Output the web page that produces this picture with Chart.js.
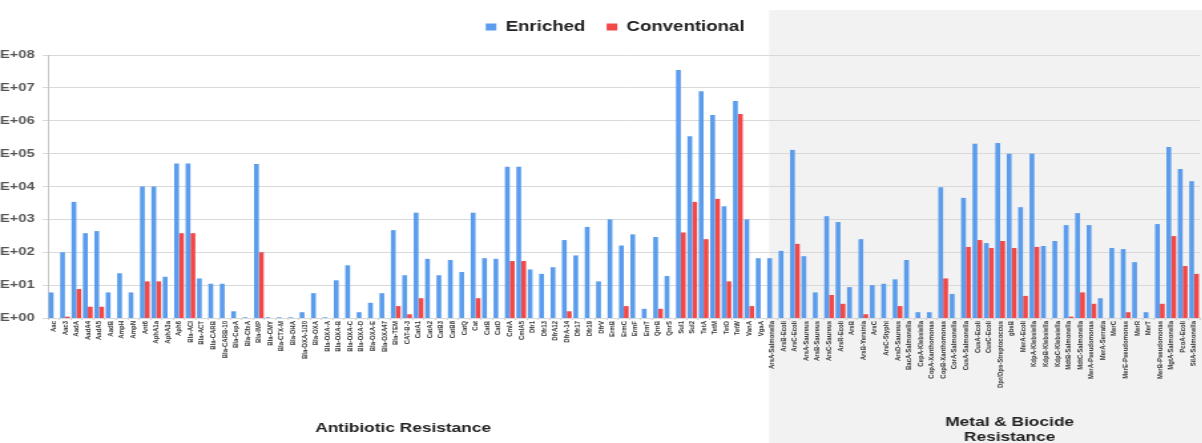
<!DOCTYPE html>
<html>
<head>
<meta charset="utf-8">
<script src="https://cdn.jsdelivr.net/npm/chart.js@4.4.1/dist/chart.umd.min.js"></script>
<style>
  html, body { margin: 0; padding: 0; background: #fff; overflow: hidden; width: 1202px; height: 443px; }
  #wrap { position: absolute; left: -4px; top: 0; width: 909px; height: 443px; transform: scaleX(1.33); transform-origin: 0 0; }
  #c { display: block; width: 909px; height: 443px; }
</style>
</head>
<body>
<div id="wrap"><canvas id="c" width="909" height="443"></canvas></div>
<script>
// Gene targets, antibiotic resistance first, then metal & biocide resistance
const categories = [
  'Aac', 'Aac3', 'AadA', 'AadA4', 'AadA5', 'AadB', 'AmpH', 'AmpN', 'Ant6', 'AphA1a',
  'AphA3a', 'Aph6', 'Bla-ACI', 'Bla-ACT', 'Bla-CARB', 'Bla-CARB-10', 'Bla-CepA', 'Bla-CfxA', 'Bla-IMP', 'Bla-CMY',
  'Bla-CTX-M', 'Bla-DHA', 'Bla-OXA-1/30', 'Bla-OXA', 'Bla-OXA-A', 'Bla-OXA-B', 'Bla-OXA-C', 'Bla-OXA-D', 'Bla-OXA-E', 'Bla-OXA47',
  'Bla-TEM', 'CAT-B-3', 'CatA1', 'CatA2', 'CatB3', 'CatB8', 'CatQ', 'Cat', 'CatB', 'CatD',
  'CmlA', 'CmlA5', 'Dfr1', 'Dfr13', 'DfrA12', 'DfrA-14', 'Dfr17', 'Dfr19', 'DfrV', 'ErmB',
  'ErmC', 'ErmF', 'ErmT', 'QnrB', 'QnrS', 'Sul1', 'Sul2', 'TetA', 'TetM', 'TetO',
  'TetW', 'VanA', 'VgaA',
  'ArsA-Salmonella', 'ArsB-Ecoli', 'ArsC-Ecoli', 'ArsA-Saureus', 'ArsB-Saureus', 'ArsC-Saureus', 'ArsR-Ecoli', 'ArsB',
  'ArsB-Yersinia', 'ArsC', 'ArsC-Styphi', 'ArsD-Saureus', 'BacA-Salmonella', 'CepA-Klebsiella', 'CopA-Xanthomonas',
  'CopB-Xanthomonas', 'CorA-Salmonella', 'CusA-Salmonella', 'CusA-Ecoli', 'CusC-Ecoli', 'Dpr/Dps-Streptococcus', 'gbsB',
  'MerA-Ecoli', 'KdpA-Klebsiella', 'KdpB-Klebsiella', 'KdpC-Klebsiella', 'MdtB-Salmonella', 'MdtC-Salmonella',
  'MerA-Pseudomonas', 'MerA-Serratia', 'MerC', 'MerE-Pseudomonas', 'MerR', 'MerT', 'MerB-Pseudomonas',
  'MgtA-Salmonella', 'PcoA-Ecoli', 'SilA-Salmonella'
];

// Number of antibiotic-resistance targets at the start of the list
const antibioticCount = 63;

const seriesNames = ['Enriched', 'Conventional'];

// Gene copies detected, enriched samples
const enriched = [
  6, 100, 3400, 380, 440, 6, 23, 6, 10000, 10000,
  18, 50000, 50000, 16, 11, 11, 1.6, 1.05, 48000, 1.05,
  1.05, 1.05, 1.5, 5.7, 1.05, 14, 40, 1.5, 2.9, 5.7,
  470, 20, 1600, 63, 20, 58, 25, 1600, 66, 63,
  40000, 40000, 30, 22, 35, 235, 80, 590, 13, 1000,
  160, 350, 1.9, 290, 19, 35000000, 340000, 7900000, 1500000, 2500,
  4000000, 1000, 66,
  66, 110, 130000, 76, 6, 1250, 830, 8.7,
  250, 10, 11, 15, 58, 1.5, 1.5,
  9500, 5.4, 4500, 200000, 190, 210000, 100000,
  2350, 100000, 155, 220, 670, 1550,
  670, 4, 135, 125, 50, 1.5, 720,
  160000, 34000, 14500
];

// Gene copies detected, conventional samples
const conventional = [
  null, 1.1, 7.6, 2.2, 2.2, null, null, null, 13, 13,
  null, 380, 380, null, null, null, null, null, 100, null,
  null, null, null, null, null, null, null, null, null, null,
  2.3, 1.3, 4, null, null, null, null, 4, null, null,
  54, 54, null, null, null, 1.6, null, null, null, null,
  2.3, null, null, 1.9, null, 400, 3400, 250, 4200, 13,
  1600000, 2.3, null,
  null, null, 180, null, null, 5, 2.7, null,
  1.3, null, null, 2.3, null, null, null,
  16, null, 145, 235, 135, 220, 135,
  4.7, 145, null, null, 1.1, 6,
  2.7, null, null, 1.5, null, null, 2.7,
  310, 38, 22
];

const yTickValues = [1, 10, 100, 1000, 10000, 100000, 1000000, 10000000, 100000000];
const yTickLabels = ['1E+00', '1E+01', '1E+02', '1E+03', '1E+04', '1E+05', '1E+06', '1E+07', '1E+08'];

const sectionTitles = [['Antibiotic Resistance'], ['Metal & Biocide', 'Resistance']];

const FONT = '"Liberation Sans", Arial, sans-serif';

// Light grey panel behind the metal & biocide targets
const sectionShade = {
  id: 'sectionShade',
  beforeDraw(chart) {
    const { ctx, scales: { x } } = chart;
    const split = (x.getPixelForValue(antibioticCount - 1) + x.getPixelForValue(antibioticCount)) / 2 + 2;
    ctx.save();
    ctx.fillStyle = '#f2f2f2';
    ctx.fillRect(split, 10, chart.width - split, chart.height - 10);
    ctx.restore();
  }
};

// Group captions under the rotated category labels
const sectionCaptions = {
  id: 'sectionCaptions',
  afterDraw(chart) {
    const { ctx, scales: { x }, chartArea } = chart;
    const split = (x.getPixelForValue(antibioticCount - 1) + x.getPixelForValue(antibioticCount)) / 2;
    ctx.save();
    ctx.font = 'bold 13px ' + FONT;
    ctx.fillStyle = '#222';
    ctx.textAlign = 'center';
    ctx.textBaseline = 'middle';
    const abX = (x.getPixelForValue(0) + x.getPixelForValue(antibioticCount - 1)) / 2 - 3;
    ctx.fillText(sectionTitles[0][0], abX, 428);
    const mX = (split + chartArea.right) / 2 + 20;
    ctx.fillText(sectionTitles[1][0], mX, 422);
    ctx.fillText(sectionTitles[1][1], mX, 437);
    ctx.restore();
  }
};

// Legend row: extra gap above the plot and a slight shift to the right
const legendPlacement = {
  id: 'legendPlacement',
  beforeLayout(chart) {
    const lg = chart.legend;
    if (lg && !lg._gapPatched) {
      const fit = lg.fit;
      lg.fit = function () { fit.call(this); this.height += 11; };
      lg._gapPatched = true;
    }
  },
  afterLayout(chart) {
    const lg = chart.legend;
    if (lg) { lg.left += 11; lg.right += 11; }
  }
};

new Chart(document.getElementById('c'), {
  type: 'bar',
  data: {
    labels: categories,
    datasets: [
      { label: seriesNames[0], data: enriched, backgroundColor: '#5b9dec', borderWidth: 0 },
      { label: seriesNames[1], data: conventional, backgroundColor: '#f24848', borderWidth: 0 }
    ]
  },
  options: {
    responsive: false,
    animation: false,
    devicePixelRatio: 1,
    categoryPercentage: 0.86,
    barPercentage: 0.98,
    layout: { padding: { top: 4, left: 0, right: 0, bottom: 0 } },
    plugins: {
      legend: {
        position: 'top',
        labels: {
          boxWidth: 8,
          boxHeight: 7,
          padding: 16,
          color: '#222',
          font: { family: FONT, size: 14, weight: 'bold' }
        }
      },
      tooltip: { enabled: false }
    },
    scales: {
      x: {
        type: 'category',
        offset: true,
        afterFit(scale) { scale.height = 125; },
        grid: { display: true, drawOnChartArea: false, tickLength: 2, color: '#cfcfcf' },
        border: { display: false },
        ticks: {
          autoSkip: false,
          minRotation: 90,
          maxRotation: 90,
          padding: 1,
          color: '#333',
          font: { family: FONT, size: 6, weight: 'bold' }
        }
      },
      y: {
        type: 'logarithmic',
        min: 1,
        max: 100000000,
        afterFit(scale) { scale.width = 39; },
        afterBuildTicks(scale) { scale.ticks = yTickValues.map(v => ({ value: v })); },
        grid: { color: '#d9d9d9', lineWidth: 1, tickLength: 4 },
        border: { color: '#c4c4c4' },
        ticks: {
          padding: 6,
          color: '#555',
          font: { family: FONT, size: 11, weight: 'bold' },
          callback(value) {
            const i = yTickValues.indexOf(value);
            return i >= 0 ? yTickLabels[i] : '';
          }
        }
      }
    }
  },
  plugins: [sectionShade, sectionCaptions, legendPlacement]
});
</script>
</body>
</html>
